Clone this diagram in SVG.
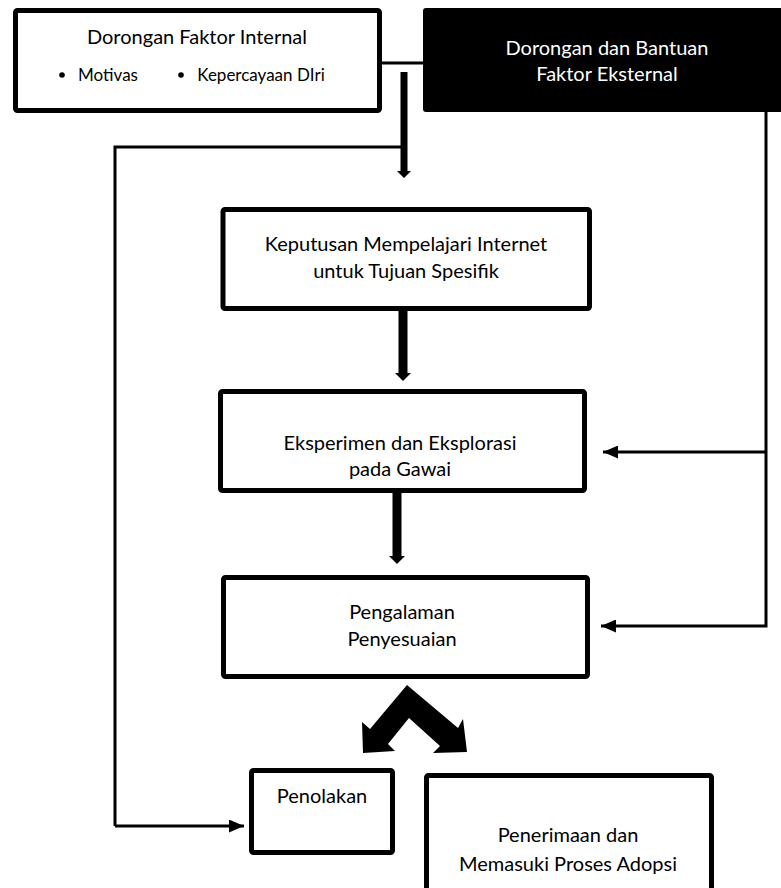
<svg xmlns="http://www.w3.org/2000/svg" width="781" height="888" viewBox="0 0 781 888">
<style>
.box{fill:#fff;stroke:#000;stroke-width:5;stroke-linejoin:round}
.t{font-family:Lato,"Open Sans","Liberation Sans",sans-serif;font-size:20px;fill:#000;text-anchor:middle}
.s{font-size:17px}
.tw{fill:#fff}
.ln{fill:none;stroke:#000;stroke-width:3}
</style>
<defs>
<marker id="ah" markerWidth="15" markerHeight="13" refX="15" refY="6.5" orient="auto" markerUnits="userSpaceOnUse">
<path d="M0,0 L15,6.5 L0,13 Z" fill="#000"/>
</marker>
</defs>
<rect width="781" height="888" fill="#fff"/>
<g id="connectors">
<line class="ln" x1="380" y1="63" x2="425" y2="63"/>
<polyline class="ln" points="115,826 115,147 404,147"/>
<path d="M400.5,72 H407.5 V171 H411 L404,178 L397,171 H400.5 Z" fill="#000"/>
<polyline class="ln" points="766,110 766,626 601,626" marker-end="url(#ah)"/>
<line class="ln" x1="766" y1="452" x2="603" y2="452" marker-end="url(#ah)"/>
<line class="ln" x1="115" y1="826" x2="244" y2="826" marker-end="url(#ah)"/>
<path d="M398.5,310 H407.5 V373 H411 L403,381 L395,373 H398.5 Z" fill="#000"/>
<path d="M392.5,493 H401.5 V556 H405 L397,564 L389,556 H392.5 Z" fill="#000"/>
<path d="M407,685 L458,728 L463,719 L467,752 L433,753 L440,746 L409,718 L388,744 L395,751 L363,753 L362,722 L370,729 Z" fill="#000"/>
</g>
<g id="internal">
<rect class="box" x="15.5" y="10.5" width="364" height="100" rx="2"/>
<text class="t" x="197" y="44">Dorongan Faktor Internal</text>
<circle cx="62" cy="75" r="2.8" fill="#000"/>
<text class="t s" x="108" y="81">Motivas</text>
<circle cx="181" cy="75" r="2.8" fill="#000"/>
<text class="t s" x="261" y="81">Kepercayaan DIri</text>
</g>
<g id="external">
<rect x="423" y="8" width="362" height="104" rx="3" fill="#000"/>
<text class="t tw" x="607" y="55">Dorongan dan Bantuan</text>
<text class="t tw" x="607" y="81">Faktor Eksternal</text>
</g>
<g id="keputusan">
<rect class="box" x="223" y="209.5" width="366.5" height="99" rx="2"/>
<text class="t" x="406" y="251">Keputusan Mempelajari Internet</text>
<text class="t" x="406" y="278">untuk Tujuan Spesifik</text>
</g>
<g id="eksperimen">
<rect class="box" x="220.5" y="391.5" width="364" height="99" rx="2"/>
<text class="t" x="400" y="450">Eksperimen dan Eksplorasi</text>
<text class="t" x="400" y="476">pada Gawai</text>
</g>
<g id="pengalaman">
<rect class="box" x="223.5" y="577.5" width="364" height="99" rx="2"/>
<text class="t" x="402" y="619">Pengalaman</text>
<text class="t" x="402" y="646">Penyesuaian</text>
</g>
<g id="penolakan">
<rect class="box" x="251.5" y="770.5" width="141" height="82" rx="2"/>
<text class="t" x="322" y="803">Penolakan</text>
</g>
<g id="penerimaan">
<rect class="box" x="426.5" y="775.5" width="285" height="130" rx="2"/>
<text class="t" x="568" y="842">Penerimaan dan</text>
<text class="t" x="568" y="871">Memasuki Proses Adopsi</text>
</g>
</svg>
